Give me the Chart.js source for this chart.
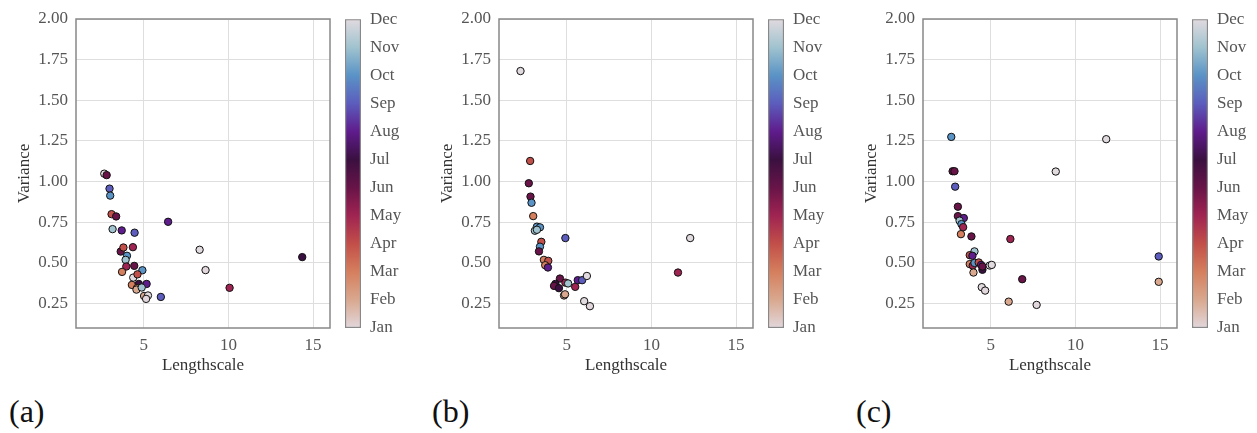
<!DOCTYPE html>
<html>
<head>
<meta charset="utf-8">
<script src="https://cdn.jsdelivr.net/npm/chart.js@4.4.1/dist/chart.umd.min.js"></script>
<style>
  body { margin: 0; background: #fff; width: 1257px; height: 433px; position: relative; overflow: hidden; }
  canvas { position: absolute; top: 0; }
  .lbl { position: absolute; top: 393px; font: 32px 'Liberation Serif', 'Times New Roman', serif; color: #111; }
</style>
</head>
<body>
<canvas id="scA" width="340" height="380" style="left:0px"></canvas>
<canvas id="cbA" width="80" height="380" style="left:340px"></canvas>
<canvas id="scB" width="340" height="380" style="left:423px"></canvas>
<canvas id="cbB" width="80" height="380" style="left:763px"></canvas>
<canvas id="scC" width="340" height="380" style="left:847px"></canvas>
<canvas id="cbC" width="80" height="380" style="left:1187px"></canvas>
<div class="lbl" style="left:9px">(a)</div>
<div class="lbl" style="left:432px">(b)</div>
<div class="lbl" style="left:856px">(c)</div>
<script>
'use strict';

let monthNames = ['Jan', 'Feb', 'Mar', 'Apr', 'May', 'Jun', 'Jul', 'Aug', 'Sep', 'Oct', 'Nov', 'Dec'];
// twilight colours, Jan -> Dec
let monthColors = ['#e2d7dc', '#d9a88f', '#d57f5e', '#c24f49', '#a02452', '#681448',
  '#3a1040', '#5f1c8c', '#5c5dbd', '#5a93c6', '#a0c3cf', '#e1dadf'];
let xTicks = [5, 10, 15];
let yTicks = [0.25, 0.5, 0.75, 1.0, 1.25, 1.5, 1.75, 2.0];

// panel (a)
let lenA = [2.67, 2.81, 2.98, 3.02, 3.10, 3.37, 3.16, 3.70, 4.46, 6.44, 3.64, 3.80, 4.36, 4.01, 3.93,
  3.97, 4.44, 3.72, 4.92, 4.38, 4.63, 4.30, 4.71, 5.17, 4.60, 4.57, 4.88, 5.02, 5.25, 5.14, 6.01,
  8.30, 8.65, 10.07, 14.36];
let varA = [1.049, 1.040, 0.957, 0.914, 0.800, 0.786, 0.708, 0.700, 0.686, 0.753, 0.570, 0.595, 0.597,
  0.544, 0.519, 0.478, 0.482, 0.445, 0.455, 0.410, 0.430, 0.365, 0.371, 0.371, 0.345, 0.336, 0.349,
  0.297, 0.300, 0.279, 0.291, 0.581, 0.456, 0.347, 0.536];
let monA = [12, 6, 9, 10, 4, 6, 11, 8, 9, 8, 6, 4, 5, 10, 11, 5, 6, 3, 10, 12, 4, 3, 7, 8, 3, 2, 11,
  2, 12, 1, 9, 12, 1, 5, 7];

// panel (b)
let lenB = [2.27, 2.84, 2.76, 2.86, 2.92, 3.02, 3.24, 3.42, 3.12, 3.24, 3.50, 3.42, 3.36, 3.65, 3.91,
  3.73, 3.89, 4.92, 4.60, 4.33, 4.25, 4.54, 4.92, 5.08, 5.50, 5.65, 5.91, 6.19, 4.84, 4.90, 6.03,
  6.37, 11.57, 12.29];
let varB = [1.680, 1.127, 0.990, 0.908, 0.870, 0.788, 0.723, 0.719, 0.698, 0.704, 0.630, 0.600, 0.571,
  0.519, 0.513, 0.486, 0.472, 0.653, 0.404, 0.371, 0.359, 0.345, 0.379, 0.374, 0.353, 0.394, 0.394,
  0.420, 0.300, 0.307, 0.265, 0.234, 0.441, 0.653];
let monB = [12, 4, 6, 6, 10, 3, 10, 10, 11, 11, 4, 10, 6, 3, 4, 3, 8, 9, 6, 7, 6, 7, 5, 11, 5, 8, 9,
  12, 2, 2, 12, 1, 5, 12];

// panel (c)
let lenC = [2.67, 2.75, 2.86, 2.90, 3.06, 3.06, 3.41, 3.16, 3.27, 3.37, 3.24, 3.86, 6.16, 4.04, 3.76,
  3.92, 3.76, 3.94, 4.04, 4.29, 4.43, 4.51, 4.51, 3.98, 4.94, 5.06, 4.47, 4.67, 6.06, 7.71, 6.86,
  8.84, 11.82, 14.92, 14.92];
let varC = [1.275, 1.064, 1.064, 0.969, 0.846, 0.788, 0.776, 0.760, 0.739, 0.720, 0.677, 0.663, 0.647,
  0.571, 0.548, 0.544, 0.493, 0.484, 0.500, 0.503, 0.488, 0.458, 0.478, 0.441, 0.484, 0.488, 0.351,
  0.330, 0.262, 0.242, 0.400, 1.062, 1.261, 0.540, 0.384];
let monC = [10, 6, 6, 9, 6, 6, 8, 11, 10, 5, 3, 6, 5, 11, 4, 8, 3, 5, 10, 4, 8, 7, 6, 2, 12, 12, 12,
  1, 2, 1, 6, 12, 12, 9, 2];

const serif = "'Liberation Serif', 'Times New Roman', serif";

const framePlugin = {
  id: 'frame',
  beforeDatasetsDraw(chart) {
    const a = chart.chartArea;
    const c = chart.ctx;
    c.save();
    c.strokeStyle = '#888';
    c.lineWidth = 1.5;
    c.strokeRect(a.left, a.top, a.right - a.left, a.bottom - a.top);
    c.restore();
  }
};

function makeScatter(id, xs, ys, ms) {
  let pts = [];
  for (let i = 0; i < xs.length; i++) {
    pts.push({ x: xs[i], y: ys[i] });
  }
  let ctx = document.getElementById(id).getContext('2d');
  new Chart(ctx, {
    type: 'scatter',
    data: {
      datasets: [{
        data: pts,
        backgroundColor: ms.map(m => monthColors[m - 1]),
        borderColor: '#111',
        borderWidth: 1,
        pointRadius: 3.7,
        pointHoverRadius: 3.7
      }]
    },
    options: {
      responsive: false,
      animation: false,
      events: [],
      layout: { padding: { top: 19, right: 10, left: 0, bottom: 0 } },
      plugins: { legend: { display: false }, tooltip: { enabled: false } },
      scales: {
        x: {
          min: 1, max: 16,
          afterBuildTicks: s => { s.ticks = xTicks.map(v => ({ value: v })); },
          afterFit: s => { s.height = 52; },
          grid: { color: '#dedede', lineWidth: 1, drawTicks: false },
          border: { display: false },
          ticks: { padding: 7, color: '#555', font: { family: serif, size: 17 } },
          title: { display: true, text: 'Lengthscale', color: '#333', padding: { top: 4, bottom: 4 }, font: { family: serif, size: 17 } }
        },
        y: {
          min: 0.1, max: 2.0,
          afterBuildTicks: s => { s.ticks = yTicks.map(v => ({ value: v })); },
          afterFit: s => { s.width = 76; },
          grid: { color: '#dedede', lineWidth: 1, drawTicks: false },
          border: { display: false },
          ticks: { padding: 8, color: '#555', font: { family: serif, size: 17 }, callback: v => v.toFixed(2) },
          title: { display: true, text: 'Variance', color: '#333', padding: { top: 14, bottom: 0 }, font: { family: serif, size: 17 } }
        }
      }
    },
    plugins: [framePlugin]
  });
}

function makeColorbar(id) {
  let ctx = document.getElementById(id).getContext('2d');
  new Chart(ctx, {
    type: 'bar',
    data: {
      labels: [''],
      datasets: [{
        data: [[1, 12]],
        backgroundColor: function (c) {
          const a = c.chart.chartArea;
          if (!a) return monthColors[0];
          const g = c.chart.ctx.createLinearGradient(0, a.bottom, 0, a.top);
          monthColors.forEach((col, i) => g.addColorStop(i / 11, col));
          return g;
        },
        borderColor: '#888',
        borderWidth: 1.5,
        borderSkipped: false,
        barPercentage: 1,
        categoryPercentage: 1
      }]
    },
    options: {
      responsive: false,
      animation: false,
      events: [],
      layout: { padding: { top: 19, left: 5, bottom: 52, right: 0 } },
      plugins: { legend: { display: false }, tooltip: { enabled: false } },
      scales: {
        x: { display: false },
        y: {
          position: 'right',
          min: 1, max: 12,
          afterBuildTicks: s => { s.ticks = monthNames.map((n, i) => ({ value: i + 1 })); },
          afterFit: s => { s.width = 59; },
          grid: { display: false, drawTicks: false },
          border: { display: false },
          ticks: { padding: 9, color: '#555', font: { family: serif, size: 17 }, callback: v => monthNames[v - 1] }
        }
      }
    }
  });
}

makeScatter('scA', lenA, varA, monA);
makeScatter('scB', lenB, varB, monB);
makeScatter('scC', lenC, varC, monC);
makeColorbar('cbA');
makeColorbar('cbB');
makeColorbar('cbC');
</script>
</body>
</html>
